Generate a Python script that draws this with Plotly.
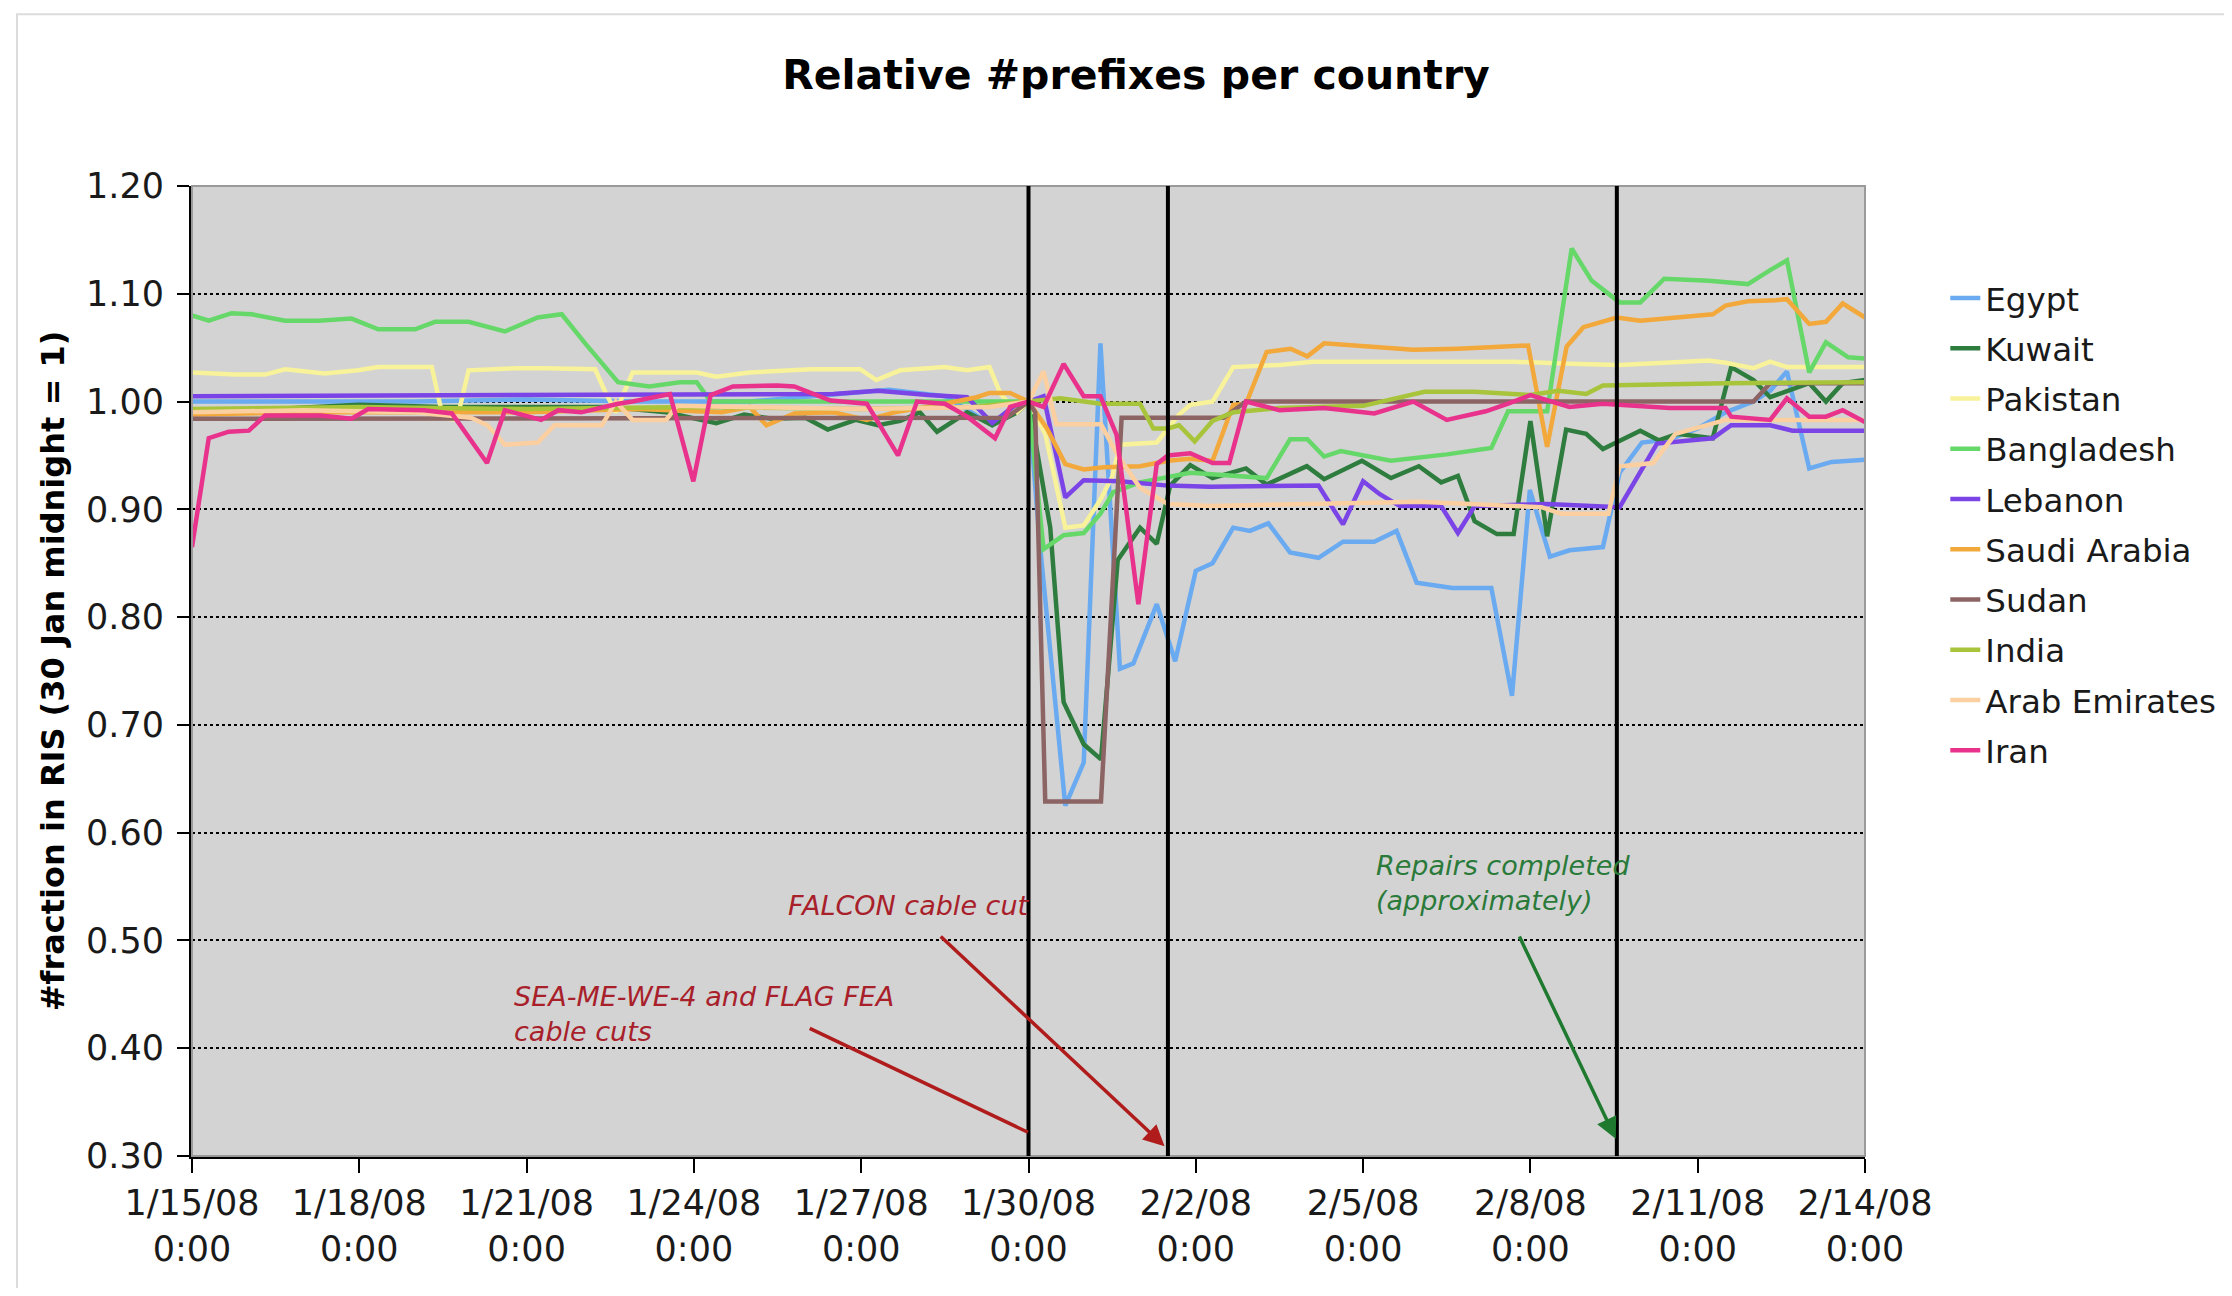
import pandas as pd
import plotly.graph_objects as go

START = pd.Timestamp("2008-01-15")

# ---- data: day offsets from 15 Jan 2008 0:00 and relative prefix counts ----
egypt_days = [0, 2, 4, 6, 8, 10, 11.8, 12.5, 13.5, 14.35, 14.7, 15.0, 15.2, 15.66, 15.99, 16.29,
              16.64, 16.88, 17.3, 17.63, 18.0, 18.3, 18.67, 18.97, 19.3, 19.69, 20.2, 20.64, 21.2,
              21.6, 21.96, 22.6, 23.3, 23.67, 23.99, 24.35, 24.7, 25.3, 25.6, 26.0, 26.5, 27.0,
              27.5, 28.0, 28.3, 28.6, 29.0, 29.4, 30]
egypt_vals = [1.0, 1.0, 1.0, 1.002, 1.0, 1.0, 1.008, 1.011, 1.005, 0.978, 0.995, 1.0, 0.87, 0.625,
              0.665, 1.054, 0.752, 0.757, 0.812, 0.759, 0.843, 0.85, 0.883, 0.88, 0.887, 0.86,
              0.855, 0.87, 0.87, 0.88, 0.832, 0.827, 0.827, 0.727, 0.918, 0.856, 0.862, 0.865,
              0.934, 0.962, 0.965, 0.975, 0.99, 1.0, 1.01, 1.028, 0.938, 0.944, 0.946]

kuwait_days = [0, 1.5, 3, 4.5, 6, 7.5, 8.5, 9.4, 9.9, 10.4, 11.0, 11.4, 11.9, 12.3, 12.7, 13.05,
               13.36, 13.9, 14.35, 14.8, 15.0, 15.39, 15.63, 15.99, 16.3, 16.6, 17.0, 17.3, 17.54,
               17.9, 18.3, 18.9, 19.27, 19.99, 20.3, 20.98, 21.5, 22.0, 22.4, 22.7, 23.0, 23.4,
               23.7, 24.0, 24.3, 24.64, 25.0, 25.3, 25.97, 26.3, 26.64, 27.27, 27.6, 28.0, 28.3,
               29.0, 29.3, 29.6, 30]
kuwait_vals = [0.992, 0.993, 0.997, 0.995, 0.995, 0.995, 0.99, 0.98, 0.988, 0.984, 0.985, 0.974,
               0.983, 0.978, 0.982, 0.99, 0.972, 0.99, 0.978, 0.99, 1.0, 0.883, 0.721, 0.682,
               0.668, 0.853, 0.883, 0.868, 0.922, 0.941, 0.929, 0.938, 0.923, 0.94, 0.928, 0.945,
               0.929, 0.94, 0.925, 0.931, 0.889, 0.877, 0.877, 0.982, 0.875, 0.974, 0.97, 0.956,
               0.973, 0.964, 0.97, 0.966, 1.032, 1.02, 1.004, 1.017, 1.0, 1.017, 1.02]

pakistan_days = [0, 0.78, 1.31, 1.67, 2.38, 2.98, 3.34, 4.3, 4.5, 4.75, 4.96, 5.85, 6.33, 7.23,
                 7.4, 7.6, 7.9, 9.05, 9.4, 10.0, 11.1, 11.98, 12.27, 12.7, 13.5, 13.9, 14.3, 14.5,
                 14.8, 15.0, 15.3, 15.66, 15.99, 16.29, 16.5, 16.64, 17.3, 17.7, 17.9, 18.3, 18.67,
                 19.5, 20.1, 21.9, 23.7, 24.7, 25.6, 27.2, 27.5, 28.0, 28.3, 28.6, 30]
pakistan_vals = [1.027, 1.025, 1.025, 1.03, 1.026, 1.029, 1.032, 1.032, 0.985, 0.983, 1.029, 1.031,
                 1.031, 1.03, 1.01, 0.99, 1.027, 1.027, 1.023, 1.027, 1.03, 1.03, 1.02, 1.029,
                 1.032, 1.029, 1.032, 1.007, 0.99, 1.0, 0.97, 0.883, 0.885, 0.909, 0.93, 0.96,
                 0.962, 0.988, 0.997, 1.0, 1.032, 1.034, 1.037, 1.037, 1.037, 1.035, 1.034, 1.038,
                 1.036, 1.031, 1.037, 1.032, 1.032]

bangladesh_days = [0, 0.3, 0.71, 1.07, 1.67, 2.27, 2.86, 3.34, 4.0, 4.36, 4.96, 5.61, 6.2, 6.63,
                   7.05, 7.64, 8.2, 8.75, 9.05, 9.3, 11, 13, 14.5, 15.0, 15.27, 15.63, 15.99,
                   16.29, 16.52, 17.0, 17.9, 19.27, 19.69, 20.0, 20.3, 20.6, 21.5, 22.5, 23.3,
                   23.6, 24.3, 24.74, 25.1, 25.6, 25.97, 26.4, 27.2, 27.9, 28.3, 28.6, 29.0, 29.3,
                   29.7, 30]
bangladesh_vals = [1.08, 1.075, 1.082, 1.081, 1.075, 1.075, 1.077, 1.067, 1.067, 1.074, 1.074,
                   1.065, 1.078, 1.081, 1.054, 1.018, 1.014, 1.018, 1.018, 1.0, 1.0, 1.0, 1.0, 1.0,
                   0.863, 0.876, 0.878, 0.896, 0.916, 0.925, 0.934, 0.929, 0.965, 0.965, 0.949,
                   0.954, 0.945, 0.951, 0.957, 0.991, 0.991, 1.142, 1.112, 1.092, 1.092, 1.114,
                   1.112, 1.109, 1.122, 1.131, 1.027, 1.055, 1.041, 1.04]

lebanon_days = [0, 5, 10, 11.5, 12.3, 13.2, 13.9, 14.35, 14.8, 15.0, 15.27, 15.66, 15.99, 16.64,
                17.5, 18.26, 20.2, 20.64, 21.0, 21.3, 21.66, 22.4, 22.7, 23.0, 24.3, 25.6, 26.27,
                27.27, 27.6, 28.3, 28.7, 30]
lebanon_vals = [1.005, 1.006, 1.006, 1.007, 1.01, 1.006, 1.004, 0.98, 0.998, 1.0, 1.005, 0.911,
                0.927, 0.926, 0.922, 0.921, 0.922, 0.886, 0.926, 0.914, 0.903, 0.903, 0.878,
                0.903, 0.905, 0.902, 0.961, 0.966, 0.978, 0.978, 0.973, 0.973]

saudi_days = [0, 2, 4, 6, 8, 9.5, 10.0, 10.3, 10.8, 11.5, 12.1, 12.6, 13.5, 14.07, 14.3, 14.67,
              15.0, 15.33, 15.66, 15.99, 16.35, 17.0, 17.5, 17.9, 18.3, 18.67, 18.9, 19.27, 19.7,
              20.0, 20.3, 21.0, 21.9, 22.7, 23.4, 23.96, 24.3, 24.65, 24.95, 25.55, 25.97, 26.57,
              27.27, 27.5, 27.9, 28.4, 28.6, 29.0, 29.3, 29.6, 30]
saudi_vals = [0.988, 0.99, 0.99, 0.99, 0.993, 0.99, 0.995, 0.978, 0.989, 0.99, 0.983, 0.99, 0.998,
              1.004, 1.008, 1.008, 1.0, 0.975, 0.942, 0.937, 0.939, 0.94, 0.945, 0.947, 0.945,
              0.997, 0.998, 1.046, 1.049, 1.042, 1.054, 1.051, 1.048, 1.049, 1.051, 1.052, 0.958,
              1.051, 1.069, 1.078, 1.075, 1.078, 1.081, 1.089, 1.093, 1.094, 1.095, 1.072, 1.074,
              1.091, 1.078]

sudan_days = [0, 14.6, 15.0, 15.12, 15.3, 16.3, 16.67, 18.5, 18.9, 28.0, 28.3, 30]
sudan_vals = [0.984, 0.985, 1.0, 0.99, 0.629, 0.629, 0.985, 0.985, 1.0, 1.0, 1.017, 1.017]

india_days = [0, 3, 6, 9, 12, 14, 15.0, 15.57, 16.29, 17.0, 17.24, 17.5, 17.7, 17.98, 18.3, 18.67,
              19.5, 21.0, 22.1, 23.0, 24.0, 24.5, 25.0, 25.3, 27.5, 30]
india_vals = [0.993, 0.995, 0.993, 0.995, 0.993, 0.995, 1.0, 1.003, 0.998, 0.998, 0.975, 0.975,
              0.978, 0.963, 0.982, 0.99, 0.994, 0.996, 1.009, 1.009, 1.006, 1.01, 1.007, 1.015,
              1.017, 1.018]

emirates_days = [0, 2, 4, 5.0, 5.3, 5.61, 6.2, 6.5, 7.35, 7.6, 7.9, 8.5, 8.7, 10, 12, 14.3, 15.0,
                 15.27, 15.5, 16.3, 16.6, 17.0, 17.5, 18.26, 20, 22, 24.2, 24.55, 25.4, 25.6,
                 26.2, 26.6, 27.5, 30]
emirates_vals = [0.99, 0.992, 0.99, 0.985, 0.978, 0.96, 0.962, 0.978, 0.978, 1.0, 0.983, 0.983,
                 0.996, 0.995, 0.993, 0.995, 1.0, 1.028, 0.979, 0.979, 0.95, 0.92, 0.905, 0.903,
                 0.905, 0.907, 0.902, 0.896, 0.896, 0.94, 0.943, 0.97, 0.983, 0.983]

iran_days = [0, 0.3, 0.66, 1.02, 1.31, 2.3, 2.86, 3.16, 4.16, 4.66, 5.29, 5.61, 6.26, 6.57, 6.98,
             7.64, 7.9, 8.57, 8.99, 9.3, 9.7, 10.49, 10.8, 11.45, 12.1, 12.66, 13.0, 13.5, 13.9,
             14.4, 14.67, 15.0, 15.27, 15.63, 15.99, 16.29, 16.58, 16.97, 17.3, 17.5, 17.9, 18.3,
             18.6, 18.9, 19.5, 20.3, 21.2, 21.9, 22.5, 23.2, 23.6, 24.0, 24.7, 25.3, 26.5, 27.5,
             27.6, 28.3, 28.6, 29.0, 29.3, 29.6, 30]
iran_vals = [0.865, 0.966, 0.972, 0.973, 0.987, 0.987, 0.984, 0.993, 0.992, 0.989, 0.943, 0.992,
             0.983, 0.992, 0.99, 0.998, 1.0, 1.007, 0.926, 1.006, 1.014, 1.015, 1.014, 1.001,
             0.998, 0.95, 1.0, 0.998, 0.986, 0.966, 0.995, 1.0, 0.995, 1.035, 1.005, 1.005,
             0.969, 0.812, 0.942, 0.95, 0.952, 0.943, 0.943, 1.0, 0.992, 0.994, 0.989, 1.0,
             0.983, 0.991, 0.998, 1.006, 0.995, 0.998, 0.994, 0.994, 0.986, 0.983, 1.003, 0.986,
             0.986, 0.992, 0.981]

country_names = ["Egypt", "Kuwait", "Pakistan", "Bangladesh", "Lebanon", "Saudi Arabia",
                 "Sudan", "India", "Arab Emirates", "Iran"]
country_colors = ["#6aaaf0", "#2e7d3e", "#f8f29a", "#66d86a", "#7b44e6", "#f2a83a",
                  "#8c6464", "#a8c43a", "#fccfa0", "#e8328c"]
series_days = [egypt_days, kuwait_days, pakistan_days, bangladesh_days, lebanon_days,
               saudi_days, sudan_days, india_days, emirates_days, iran_days]
series_vals = [egypt_vals, kuwait_vals, pakistan_vals, bangladesh_vals, lebanon_vals,
               saudi_vals, sudan_vals, india_vals, emirates_vals, iran_vals]

# event markers (day offsets): cable cuts on 30 Jan, FALCON cut, repairs completed
event_days = [15.0, 17.5, 25.55]

title_text = "Relative #prefixes per country"
y_title = "#fraction in RIS (30 Jan midnight = 1)"


def to_date(d):
    return (START + pd.Timedelta(days=d)).strftime("%Y-%m-%d %H:%M:%S")


FONT = "DejaVu Sans, Verdana, sans-serif"
W, H = 2216, 1280  # page body has an 8px margin

fig = go.Figure()
for name, days, vals, color in zip(country_names, series_days, series_vals, country_colors):
    fig.add_trace(go.Scatter(
        x=[to_date(d) for d in days], y=vals, mode="lines", name=name,
        legendgroup=name, line=dict(color=color, width=4.5)))

shapes = []
# whole-chart faint frame
shapes.append(dict(type="rect", xref="paper", yref="paper", x0=-0.1046, x1=1.224,
                   y0=-0.138, y1=1.177, line=dict(color="#dcdcdc", width=2), layer="below"))
# plot-area frame (top/right gray)
shapes.append(dict(type="rect", xref="paper", yref="paper", x0=0, x1=1, y0=0, y1=1,
                   line=dict(color="#9a9a9a", width=2), layer="above"))
for d in event_days:
    shapes.append(dict(type="line", xref="x", yref="y", x0=to_date(d), x1=to_date(d),
                       y0=0.3, y1=1.2, line=dict(color="black", width=4), layer="above"))

red = "#a8202a"
green = "#2a7a3a"
annotations = [
    dict(x=to_date(10.65), y=0.532, xref="x", yref="y", text="<i>FALCON cable cut</i>",
         showarrow=False, xanchor="left", yanchor="middle",
         font=dict(family=FONT, size=27, color=red)),
    dict(x=to_date(5.74), y=0.432, xref="x", yref="y",
         text="<i>SEA-ME-WE-4 and FLAG FEA<br>cable cuts</i>", align="left",
         showarrow=False, xanchor="left", yanchor="middle",
         font=dict(family=FONT, size=27, color=red)),
    dict(x=to_date(21.19), y=0.553, xref="x", yref="y",
         text="<i>Repairs completed<br>(approximately)</i>", align="left",
         showarrow=False, xanchor="left", yanchor="middle",
         font=dict(family=FONT, size=27, color=green)),
    dict(x=to_date(17.44), y=0.309, ax=to_date(13.4), ay=0.505, xref="x", yref="y",
         axref="x", ayref="y", text="", showarrow=True, arrowhead=2, arrowsize=1.2,
         arrowwidth=3.5, arrowcolor="#b01c1c"),
    dict(x=to_date(14.99), y=0.322, ax=to_date(11.05), ay=0.419, xref="x", yref="y",
         axref="x", ayref="y", text="", showarrow=True, arrowhead=0,
         arrowwidth=3.5, arrowcolor="#b01c1c"),
    dict(x=to_date(25.53), y=0.316, ax=to_date(23.79), ay=0.505, xref="x", yref="y",
         axref="x", ayref="y", text="", showarrow=True, arrowhead=2, arrowsize=1.2,
         arrowwidth=3.5, arrowcolor="#1f7a30"),
]

fig.update_layout(
    width=W, height=H,
    margin=dict(l=184, r=359, t=178, b=132, autoexpand=False),
    paper_bgcolor="white", plot_bgcolor="#d3d3d3",
    font=dict(family=FONT, size=35, color="#1a1a1a"),
    title=dict(text="<b>" + title_text + "</b>", x=(1136 - 8) / W, xanchor="center",
               y=1 - (75 - 8) / H, yanchor="middle", yref="container",
               font=dict(family=FONT, size=41, color="black")),
    showlegend=True,
    legend=dict(x=1.048, y=0.913, xanchor="left", yanchor="top", bgcolor="rgba(0,0,0,0)",
                font=dict(family=FONT, size=32.5, color="#1a1a1a"), tracegroupgap=5,
                traceorder="grouped"),
    shapes=shapes, annotations=annotations,
)

fig.update_xaxes(
    type="date", range=[to_date(0), to_date(30)], tick0=to_date(0), dtick=3 * 86400000,
    tickformat="%-m/%-d/%y<br>%-H:%M", showgrid=False, zeroline=False,
    showline=True, linecolor="black", linewidth=3,
    ticks="outside", ticklen=14, tickwidth=2, tickcolor="black",
    tickfont=dict(family=FONT, size=35, color="#1a1a1a"))

fig.update_yaxes(
    range=[0.3, 1.2], tick0=0.3, dtick=0.1, tickformat=".2f",
    showgrid=True, gridcolor="black", griddash="dot", gridwidth=2, zeroline=False,
    showline=True, linecolor="black", linewidth=3,
    ticks="outside", ticklen=12, tickwidth=2, tickcolor="black", ticklabelstandoff=6,
    tickfont=dict(family=FONT, size=35, color="#1a1a1a"),
    title=dict(text="<b>" + y_title + "</b>", standoff=12,
               font=dict(family=FONT, size=32, color="black")))

fig.write_html("out.html")
